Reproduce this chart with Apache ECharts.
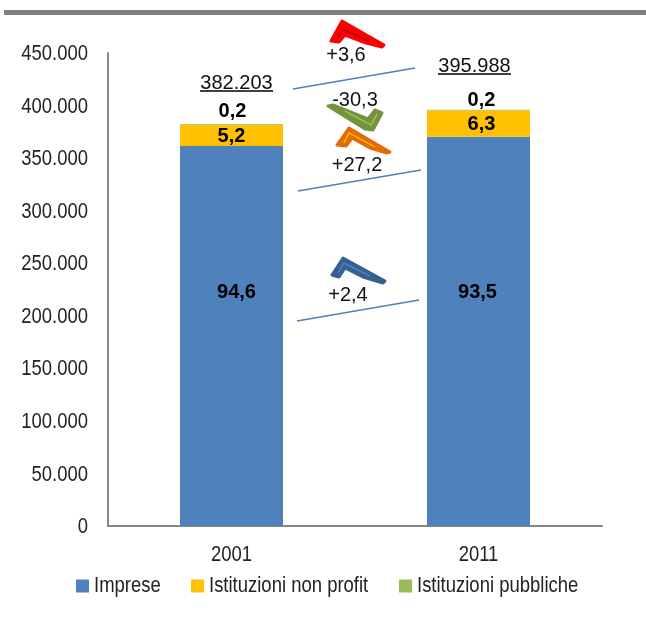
<!DOCTYPE html>
<html>
<head>
<meta charset="utf-8">
<script src="https://cdn.jsdelivr.net/npm/echarts@6/dist/echarts.min.js"></script>
<style>
html, body { margin: 0; padding: 0; background: #fff; }
#main { width: 646px; height: 619px; }
</style>
</head>
<body>
<div id="main"></div>
<script>
var years = ['2001', '2011'];
var totals = ['382.203', '395.988'];
var imprese = [361564, 370249];
var nonProfit = [19874, 24947];
var pubbliche = [765, 792];
var pctImprese = ['94,6', '93,5'];
var pctNonProfit = ['5,2', '6,3'];
var pctPubbliche = ['0,2', '0,2'];

var sans = '"Liberation Sans", Arial, sans-serif';
// assi e legenda nell'originale sono in Arial Narrow: stesso font, poi stretto in orizzontale
var narrow = '"Liberation Sans", "Arial Narrow", sans-serif';
var narrowColor = '#232323';

function barData(values, offsets) {
    return values.map(function(v, i) {
        return { value: v, label: { offset: offsets[i] } };
    });
}

function barLabel(texts, position) {
    return {
        show: true,
        position: position,
        distance: 3,
        fontFamily: sans,
        fontSize: 20,
        fontWeight: 'bold',
        color: '#000',
        formatter: function(p) { return texts[p.dataIndex]; }
    };
}

function note(text, x, y) {
    return {
        type: 'text', x: x, y: y, z: 20,
        style: { text: text, fontFamily: sans, fontSize: 20, fill: '#111', align: 'center', verticalAlign: 'middle' }
    };
}

function slant(x1, y1, x2, y2) {
    return {
        type: 'line', z: 5,
        shape: { x1: x1, y1: y1, x2: x2, y2: y2 },
        style: { stroke: '#4f81bd', lineWidth: 1.6 }
    };
}

function rule(x1, x2, y) {
    return {
        type: 'line', z: 5,
        shape: { x1: x1, y1: y, x2: x2, y2: y },
        style: { stroke: '#000', lineWidth: 1.5 }
    };
}

// freccette disegnate a mano: sagoma piena + riga interna
function arrow(outer, inner, fill, innerColor) {
    return {
        type: 'group',
        z: 6,
        children: [
            { type: 'polygon', shape: { points: outer }, style: { fill: fill, stroke: fill, lineWidth: 3, lineJoin: 'round' } },
            { type: 'polyline', z: 7, shape: { points: inner }, style: { fill: 'none', stroke: innerColor, lineWidth: 1.4 } }
        ]
    };
}

function legendItem(name, left) {
    return {
        left: left,
        top: 575,
        padding: 0,
        itemWidth: 13,
        itemHeight: 13,
        icon: 'rect',
        textStyle: { fontFamily: narrow, fontSize: 22, color: narrowColor },
        data: [name]
    };
}

var myChart = echarts.init(document.getElementById('main'));

var option = {
    backgroundColor: '#fff',
    animation: false,
    grid: { left: 108, right: 44, top: 53, bottom: 93 },
    legend: [
        legendItem('Imprese', 76),
        legendItem('Istituzioni non profit', 191),
        legendItem('Istituzioni pubbliche', 399)
    ],
    xAxis: {
        type: 'category',
        data: years,
        axisLine: { lineStyle: { color: '#868686', width: 2 } },
        axisTick: { show: false },
        axisLabel: { fontFamily: narrow, fontSize: 22, color: narrowColor, margin: 18 }
    },
    yAxis: {
        type: 'value',
        min: 0,
        max: 450000,
        interval: 50000,
        axisLine: { show: true, lineStyle: { color: '#868686', width: 2 } },
        axisTick: { show: false },
        splitLine: { show: false },
        axisLabel: {
            fontFamily: narrow,
            fontSize: 22,
            color: narrowColor,
            margin: 20,
            formatter: function(v) { return String(v).replace(/\B(?=(\d{3})+$)/g, '.'); }
        }
    },
    series: [
        {
            name: 'Imprese',
            type: 'bar',
            stack: 'tot',
            barWidth: 103,
            itemStyle: { color: '#4f81bd' },
            label: barLabel(pctImprese, 'inside'),
            data: barData(imprese, [[5, -43], [-1, -39]])
        },
        {
            name: 'Istituzioni non profit',
            type: 'bar',
            stack: 'tot',
            itemStyle: { color: '#ffc000' },
            label: barLabel(pctNonProfit, 'inside'),
            data: barData(nonProfit, [[0, 1], [3, 1]])
        },
        {
            name: 'Istituzioni pubbliche',
            type: 'bar',
            stack: 'tot',
            itemStyle: { color: '#9bbb59' },
            label: barLabel(pctPubbliche, 'top'),
            data: barData(pubbliche, [[1, 0], [3, 4]])
        }
    ],
    graphic: [
        { type: 'rect', shape: { x: 4, y: 10, width: 642, height: 5 }, style: { fill: '#808080' } },

        slant(293, 89, 415, 68),
        slant(298, 191, 421, 170),
        slant(297, 321, 419, 300),

        rule(200, 273, 91),
        rule(438, 511, 74),
        note(totals[0], 236.5, 83),
        note(totals[1], 474.5, 66),

        arrow([[331, 41], [342, 21], [384, 45], [382, 47], [366, 43], [345, 35], [339, 42]],
              [[338, 38], [343, 29], [370, 42]], '#ff0000', '#c00000'),
        arrow([[328, 106], [333, 105], [368, 119], [375, 110], [382, 113], [373, 130], [365, 129]],
              [[345, 111], [371, 125], [377, 114]], '#76923c', '#92d050'),
        arrow([[337, 145], [349, 128], [390, 152], [387, 153], [370, 148], [352, 138], [346, 146]],
              [[344, 143], [349, 133], [375, 147]], '#e36c09', '#ffc000'),
        arrow([[332, 275], [343, 258], [385, 281], [383, 283], [363, 277], [345, 268], [339, 277]],
              [[338, 273], [344, 263], [370, 276]], '#376092', '#4f81bd'),

        note('+3,6', 346, 55),
        note('-30,3', 355, 100),
        note('+27,2', 357, 165),
        note('+2,4', 348, 295)
    ]
};

myChart.setOption(option);

// stringe solo le etichette di assi e legenda
function squeeze(el) {
    if (el.type === 'text' && el.style && el.style.fontFamily === narrow) {
        el.originX = el.style.x || 0;
        el.scaleX = 0.84;
        if (el.style.align === 'right') {
            el.y += 1;
        }
        el.markRedraw();
    }
    if (el.isGroup) {
        el.eachChild(squeeze);
    }
}
myChart.getZr().storage.getRoots().forEach(squeeze);
myChart.getZr().refreshImmediately();
</script>
</body>
</html>
